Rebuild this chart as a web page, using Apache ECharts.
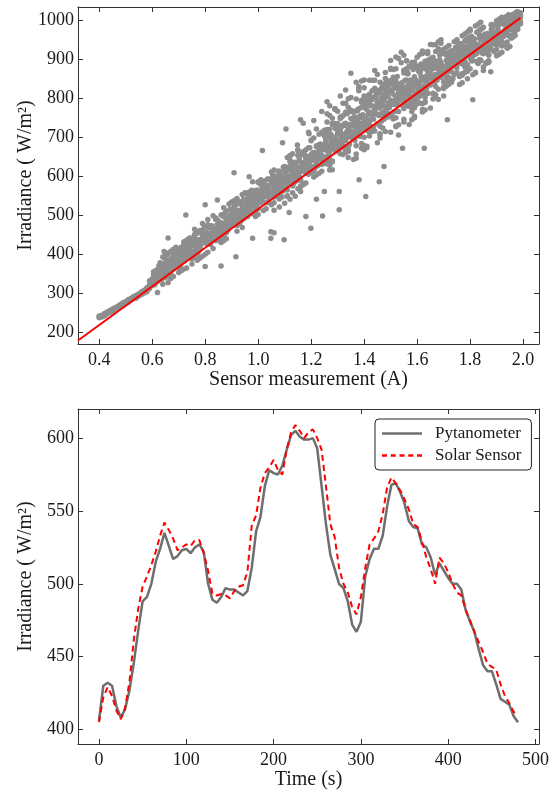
<!DOCTYPE html>
<html>
<head>
<meta charset="utf-8">
<title>Irradiance</title>
<script src="https://cdn.jsdelivr.net/npm/echarts@6/dist/echarts.min.js"></script>
<style>
html,body{margin:0;padding:0;background:#fff;}
#main{width:560px;height:791px;}
</style>
</head>
<body>
<div id="main"></div>
<script>

/********** 散点数据: [传感器读数(A), 辐照度...] **********/
var sensorCols = [
[0.40,236,239,241],[0.41,238,243,240],[0.42,245,241,247],[0.43,249,246,251],[0.44,250,255,253],
[0.45,257,253,259],[0.46,258,262,260],[0.47,266,263,261],[0.48,265,270,268],[0.49,273,269,275],
[0.50,272,278,275],[0.51,280,276,283],[0.52,281,286,284],[0.53,289,285,291],[0.54,287,294,290],
[0.55,298,292,295],[0.56,296,303,299],[0.57,300,307,303],
[0.58,303,311,305,313],[0.59,331,311,321,318],[0.60,319,323,332,336],[0.61,334,341,324,321],[0.62,329,342,331,336],
[0.63,338,361,350,345,347,377],[0.64,350,343,373,392,361,322],[0.65,348,387,385,360,339,397],
[0.66,383,344,376,402,360,400],[0.67,407,365,388,376,349,337],[0.68,381,402,363,342,412,393],
[0.69,380,417,378,383,386,414],[0.70,373,380,352,403,412,364],[0.71,401,390,357,398,378,417],
[0.72,405,382,361,421,431,428],[0.73,435,417,389,431,364,398],[0.74,409,440,394,415,403,411],
[0.75,399,389,387,435,374,427],[0.76,440,463,450,404,394,419],[0.77,455,384,453,437,430,399],
[0.78,423,414,460,416,421,389],[0.79,447,445,434,455,394,478],[0.80,433,470,439,437,452,399],
[0.81,488,450,448,404,452,475],[0.82,434,436,443,424,470,432],[0.83,460,448,462,498,454,414],
[0.84,490,434,444,488,459,492],[0.85,439,437,441,485,464,470],[0.86,429,454,500,469,444,431],
[0.87,459,495,434,449,518,468],[0.88,510,485,464,454,456,439],[0.89,490,492,488,528,497,484],
[0.90,489,502,474,476,533,487],[0.91,524,537,499,493,535,487],[0.92,458,492,529,473,542,511],
[0.93,503,505,488,534,532,478],[0.94,468,552,529,514,521,523],[0.95,519,557,507,509,513,515],
[0.96,534,496,506,552,521,542,527],[0.97,539,526,557,511,520,522,547],[0.98,562,544,552,560,525,506,546],
[0.99,542,521,557,511,523,496,513],[1.00,585,501,583,516,541,547,554],[1.01,546,577,552,559,561,590,531],
[1.02,545,551,564,511,547,553,582],[1.03,569,531,516,556,562,558,550],[1.04,546,574,576,561,592,548,536],
[1.05,560,562,610,558,579,526,587],[1.06,556,584,531,558,571,615,546],[1.07,576,551,561,597,570,599,563],
[1.08,581,587,612,602,541,543,594],[1.09,599,546,601,580,561,592,594],[1.10,622,620,566,612,591,624,619],
[1.11,564,602,577,547,647,579,549],[1.12,652,615,582,637,584,650,580],[1.13,612,605,557,657,574,630,576],
[1.14,617,602,625,610,604,627,635],[1.15,652,667,597,622,665,567,607],[1.16,635,572,574,589,591,612,614],
[1.17,577,632,617,579,634,625,662],[1.18,667,612,582,630,645,647,637],[1.19,617,604,627,672,635,606,637],
[1.20,655,692,647,609,690,640,611],[1.21,652,614,616,660,597,697,645],[1.22,642,644,602,657,675,632,677],
[1.23,607,647,670,662,680,664,707],[1.24,667,712,629,710,669,652,612],[1.25,717,647,634,702,680,636,632],
[1.26,719,668,738,631,759,675,650,707],[1.27,642,640,719,755,662,627,615,699],[1.28,638,636,748,693,696,734,616,731],
[1.29,699,687,722,665,688,734,770,772],[1.30,714,668,725,686,766,709,709,734],[1.31,679,720,657,751,747,704,727,714],
[1.32,677,730,674,699,754,786,655,688],[1.33,691,735,786,707,761,660,763,693],[1.34,647,663,672,798,721,776,663,700],
[1.35,801,769,715,714,747,765,704,706],
[1.36,744,702,737,728,642,764,736,749,764],[1.37,737,720,656,797,767,645,703,677,733],[1.38,829,736,818,733,772,716,824,749,703],
[1.39,722,750,794,725,789,683,843,671,776],[1.40,678,718,699,792,846,805,775,667,826],[1.41,746,747,797,676,730,786,804,672,770],
[1.42,738,845,726,702,791,713,809,792,723],[1.43,845,745,714,796,799,818,780,726,757],[1.44,825,777,802,803,772,845,715,821,766],
[1.45,791,819,811,787,860,775,685,788,733],[1.46,774,757,706,708,697,784,814,840,727],[1.47,755,834,723,790,791,762,806,779,798],
[1.48,817,714,850,767,832,837,865,801,827],[1.49,830,751,787,804,758,828,815,837,843],[1.50,873,896,834,712,876,756,844,794,816],
[1.51,791,853,746,848,873,842,783,748,809],[1.52,843,875,800,800,726,905,728,749,788],[1.53,791,812,901,825,797,818,795,731,765],
[1.54,815,837,830,819,917,832,890,832,813],[1.55,871,773,745,826,738,864,909,796,789],
[1.56,845,895,825,871,875,781,812,873,895],[1.57,795,805,819,810,783,732,778,882,880],[1.58,824,833,776,765,802,781,784,891,744],
[1.59,798,775,892,845,749,883,854,833,753],[1.60,809,836,829,793,877,784,843,904,879],[1.61,787,812,866,804,911,868,865,839,866],
[1.62,884,785,826,764,920,914,851,770,849],[1.63,801,894,882,769,875,818,790,788,842],[1.64,851,919,811,868,840,896,812,913,847],
[1.65,899,833,872,859,900,774,856,886,937],[1.66,878,810,797,875,936,890,846,812,904],[1.67,860,829,919,808,887,802,936,894,846],
[1.68,822,926,883,944,883,796,852,858,873],[1.69,877,949,863,884,875,852,881,890,940],
[1.70,841,826,925,862,923,828,824,805],[1.71,857,911,830,909,855,929,896,845],[1.72,850,835,934,916,871,852,901,848],
[1.73,885,906,887,921,919,840,883,867],[1.74,911,899,890,944,881,909,860,897],[1.75,949,947,916,877,865,904,886,888],
[1.76,921,834,936,891,900,934,855,857],[1.77,905,839,860,887,959,926,862,858],[1.78,919,880,892,964,865,946,894,931],
[1.79,870,872,924,951,868,885,969,849],[1.80,902,920,974,875,972,918,976,922],[1.81,946,925,934,907,859,944,895,948],
[1.82,930,864,912,914,921,984,866,939],[1.83,890,892,935,888,926,989,893,937],[1.84,994,949,931,895,933,976,922,897],
[1.85,915,945,954,952,936,879,913,981],
[1.86,937,888,924,939,890,922,926],[1.87,909,911,893,895,949,929,891],[1.88,988,947,925,986,975,963,954],
[1.89,939,946,959,941,952,919,968],[1.90,924,998,908,951,957,935,996],[1.91,939,989,941,968,1002,912,937],
[1.92,1007,917,944,966,933,994,992],[1.93,965,987,938,999,997,971,973],[1.94,943,963,983,927,985,981,929],
[1.95,932,997,1009,981,975,959,998],[1.96,962,1004,978,991,1013,955,985],[1.97,971,1008,989,1016,981,998,960],
[1.98,1010,984,1021,995,976,1003,1015],[1.99,995,1018,1006,1012,990]
];

// 密集带中心 (半步列)
var sensorCore = [
[0.605,348,325,354,329],[0.615,358,329,356,333],[0.625,363,342,348,369],[0.635,334,347,353,343],
[0.645,352,358,350,362],[0.655,344,353,378,372],[0.665,365,377,354,362],[0.675,373,363,377,379],
[0.685,368,375,399,387],[0.695,392,383,390,373],[0.705,385,397,369,409],[0.715,387,397,414,412],
[0.725,419,398,417,400],[0.735,421,406,436,415],[0.745,420,441,422,426],[0.755,425,407,431,433],
[0.765,412,421,401,436],[0.775,435,433,422,406],[0.785,427,435,425,437],[0.795,436,451,440,466],
[0.805,440,444,455,426],[0.815,441,467,436,431],[0.825,465,472,454,441],[0.835,459,441,464,462],
[0.845,460,451,475,458],[0.855,456,480,465,474],[0.865,479,466,500,456],[0.875,505,471,466,455],
[0.885,460,476,462,484],[0.895,515,513,476,471],[0.905,512,476,505,490],[0.915,481,491,499,525],
[0.925,509,511,491,530],[0.935,485,505,501,509],[0.945,525,501,540,490],[0.955,495,511,513,515],
[0.965,512,558,528,514],[0.975,539,503,533,563],[0.985,538,544,528,508],[0.995,556,533,564,521],
[1.005,537,531,539,533],[1.015,573,558,536,565],[1.025,587,552,547,554],[1.035,592,532,575,568],
[1.045,557,551,559,555],[1.055,593,556,602,595],[1.065,598,547,590,577],[1.075,572,560,612,582],
[1.085,571,587,565,557],[1.095,570,622,562,572],[1.105,575,597,610,587],[1.115,623,592,597,580],
[1.125,628,620,637,597],[1.135,582,625,584,596],[1.145,595,617,612,587],[1.155,643,652,600,617],
[1.165,657,655,617,622],[1.175,653,655,627,610],[1.185,643,650,637,607],[1.195,672,626,637,639],
[1.205,659,652,624,641],[1.215,657,621,659,655],[1.225,677,626,675,640],[1.235,645,667,656,682],
[1.245,636,638,644,672],[1.255,692,666,684,686],[1.265,676,652,654,712],[1.275,689,674,706,681],
[1.285,671,679,686,694],[1.295,691,693,676,689],[1.305,689,721,672,661],[1.315,726,709,694,751],
[1.325,671,731,729,733],[1.335,711,713,761,759],[1.345,701,681,732,766],[1.355,729,731,697,746],
[1.365,691,711,751,742],[1.375,707,767,724,769],[1.385,752,701,754,721],[1.395,757,717,734,736],
[1.405,721,738,781,745],[1.415,758,786,743,715],[1.425,720,722,780,763],[1.435,745,725,760,762],
[1.445,815,758,760,801],[1.455,755,786,778,788],[1.465,740,760,825,800],[1.475,796,745,798,805],
[1.485,778,810,761,763],[1.495,783,775,755,757],[1.505,820,760,845,788],[1.515,785,836,825,765],
[1.525,855,781,790,830],[1.535,810,812,803,835],[1.545,815,840,780,817],[1.555,845,805,813,785],
[1.565,830,863,832,861],[1.575,844,846,805,785],[1.585,873,818,801,790],[1.595,806,830,808,845],
[1.605,882,819,869,827],[1.615,854,874,815,887],[1.625,809,829,851,853],[1.635,825,856,827,814],
[1.645,889,869,861,878],[1.655,859,874,852,883],[1.665,888,849,840,842],[1.675,845,854,876,856],
[1.685,867,909,922,898],[1.695,914,879,881,864],[1.705,874,834,876,881],[1.715,914,879,867,886],
[1.725,919,891,899,897],[1.735,849,904,913,889],[1.745,888,890,929,927],[1.755,906,934,932,908],
[1.765,919,939,898,911],[1.775,933,916,903,901],[1.785,914,908,949,874],[1.795,919,954,943,934],
[1.805,958,911,895,930],[1.815,916,935,952,950],[1.825,968,914,921,893],[1.835,898,973,962,953],
[1.845,978,931,915,924],[1.855,963,961,936,955],[1.865,919,958,965,927],[1.875,924,951,945,932],
[1.885,950,983,981,985],[1.895,942,944,988,961],[1.905,978,972,954,966],[1.915,944,965,990,952],
[1.925,957,938,995,959],[1.935,987,1008,1000,1006],[1.945,986,959,1013,974],[1.955,997,995,1010,953],
[1.965,984,986,969,1015],[1.975,982,1001,984,1020]
];

// 离群点
var sensorOutliers = [
[0.62,301],[0.645,406],[0.66,441],[0.66,326],[0.727,500],[0.80,526],[0.80,368],[0.846,538],[0.86,369],
[0.916,393],[0.909,608],[0.966,598],[0.979,585],[0.979,440],[1.016,665],[1.048,440],[1.048,457],[1.06,454],
[1.06,512],[1.08,520],[1.092,685],[1.098,436],[1.10,530],[1.105,720],[1.117,506],[1.12,540],[1.14,548],
[1.148,679],[1.16,744],[1.16,560],[1.17,735],[1.18,496],[1.19,712],[1.192,708],[1.199,466],[1.21,742],
[1.22,720],[1.22,540],[1.243,497],[1.24,765],[1.25,560],[1.26,790],[1.27,780],[1.29,772],[1.306,513],
[1.306,560],[1.31,805],[1.33,820],[1.35,863],[1.37,840],[1.381,590],[1.406,547],[1.44,870],[1.457,585],
[1.475,624],[1.53,705],[1.545,671],[1.627,671],[1.714,744],[1.81,795],[1.85,870],[1.878,867]
];

// 拟合直线
var fitA = [0.32, 1.99];
var fitW = [178, 1005];

/********** 时间序列 **********/
var timeS = [0,5,10,15,20,25,30,35,40,45,50,55,60,65,70,75,80,85,90,95,
100,105,110,115,120,125,130,135,140,145,150,155,160,165,170,175,180,185,190,195,
200,205,210,215,220,225,230,235,240,245,250,255,260,265,270,275,280,285,290,295,
300,305,310,315,320,325,330,335,340,345,350,355,360,365,370,375,380,385,390,395,
400,405,410,415,420,425,430,435,440,445,450,455,460,465,470,475,480];

var pytanometer = [406,430,432,430,416,408,414,427,446,468,
488,491,500,515,524,535,526,517,519,523,
524,521,525,527,522,500,489,487,491,497,
496,496,494,492,495,511,536,546,567,578,
576,575,581,592,602,605,601,599,599,600,
593,567,541,520,510,500,497,488,472,467,
474,505,517,524,524,533,553,568,569,563,
555,543,539,538,527,525,518,506,514,509,
504,500,500,496,482,474,467,455,444,440,
440,431,421,419,417,409,405];

var solarSensor = [405,422,429,423,413,407,415,433,462,483,
498,505,513,522,533,542,537,531,523,525,
527,526,530,530,521,509,493,492,493,492,
490,495,498,499,508,540,547,566,576,580,
585,578,575,592,604,609,605,600,604,606,
600,592,567,541,532,511,500,494,484,479,
491,511,527,531,536,548,566,573,569,564,
558,551,541,539,529,518,510,500,518,514,
508,500,494,492,482,475,467,460,453,445,
443,441,431,423,418,412,410];

/********** 刻度 **********/
var sensorTicks = [0.4,0.6,0.8,1.0,1.2,1.4,1.6,1.8,2.0];
var irrTicksTop = [200,300,400,500,600,700,800,900,1000];
var timeTicks = [0,100,200,300,400,500];
var irrTicksBottom = [400,450,500,550,600];

var serif = "'Liberation Serif','DejaVu Serif',serif";
var ink = "#1a1a1a";

function axisX(grid, pos, min, max, ticks, fmt, name){
    return {
        type : "value",
        gridIndex : grid,
        position : pos,
        min : min,
        max : max,
        name : name || "",
        nameLocation : "middle",
        nameGap : 26,
        nameMoveOverlap : false,
        nameTextStyle : {fontFamily : serif, fontSize : 20, color : ink, verticalAlign : "top"},
        axisLine : {show : true, onZero : false, lineStyle : {color : "#333", width : 1}},
        axisTick : {show : true, inside : true, length : 5, customValues : ticks, lineStyle : {color : "#333"}},
        axisLabel : {show : pos == "bottom", customValues : ticks, formatter : fmt, margin : 7,
                     fontFamily : serif, fontSize : 18, color : ink},
        splitLine : {show : false}
    };
}

function axisY(grid, pos, min, max, ticks, name){
    return {
        type : "value",
        gridIndex : grid,
        position : pos,
        min : min,
        max : max,
        name : name || "",
        nameLocation : "middle",
        nameGap : 42,
        nameMoveOverlap : false,
        nameRotate : 90,
        nameTextStyle : {fontFamily : serif, fontSize : 20, color : ink},
        axisLine : {show : true, onZero : false, lineStyle : {color : "#333", width : 1}},
        axisTick : {show : true, inside : true, length : 5, customValues : ticks, lineStyle : {color : "#333"}},
        axisLabel : {show : pos == "left", customValues : ticks, margin : 4,
                     formatter : function(v){ return String(v); },
                     fontFamily : serif, fontSize : 18, color : ink},
        splitLine : {show : false}
    };
}

/********** 组装散点 **********/
var scatterData = [];
function addCols(cols){
    for(var i = 0; i < cols.length; i++){
        for(var k = 1; k < cols[i].length; k++){
            scatterData.push([cols[i][0], cols[i][k]]);
        }
    }
}
addCols(sensorCols);
addCols(sensorCore);
for(var j = 0; j < sensorOutliers.length; j++){
    scatterData.push(sensorOutliers[j]);
}

var fitData = fitA.map(function(a, i){ return [a, fitW[i]]; });
var pytData = timeS.map(function(t, i){ return [t, pytanometer[i]]; });
var solData = timeS.map(function(t, i){ return [t, solarSensor[i]]; });

var myChart = echarts.init(document.getElementById("main"));

var option = {
    animation : false,
    backgroundColor : "#fff",
    textStyle : {fontFamily : serif},
    grid : [
        {left : 78, top : 7, width : 461, height : 337},
        {left : 78, top : 409, width : 461, height : 337}
    ],
    xAxis : [
        axisX(0, "bottom", 0.32, 2.06, sensorTicks, function(v){ return v.toFixed(1); }, "Sensor measurement (A)"),
        axisX(0, "top", 0.32, 2.06, sensorTicks),
        axisX(1, "bottom", -24, 504, timeTicks, function(v){ return String(v); }, "Time (s)"),
        axisX(1, "top", -24, 504, timeTicks)
    ],
    yAxis : [
        axisY(0, "left", 169, 1033, irrTicksTop, "Irradiance ( W/m\u00b2)"),
        axisY(0, "right", 169, 1033, irrTicksTop),
        axisY(1, "left", 390, 620, irrTicksBottom, "Irradiance ( W/m\u00b2)"),
        axisY(1, "right", 390, 620, irrTicksBottom)
    ],
    legend : {
        left : 375,
        top : 419,
        orient : "vertical",
        data : [
            {name : "Pytanometer", icon : "path://M0,0h40v2.5h-40z"},
            {name : "Solar Sensor", icon : "path://M0,0h5v2.5h-5z M8.75,0h5v2.5h-5z M17.5,0h5v2.5h-5z M26.25,0h5v2.5h-5z M35,0h5v2.5h-5z"}
        ],
        itemWidth : 40,
        itemHeight : 2.5,
        itemGap : 5,
        padding : [6, 10, 6, 7],
        borderColor : "#222",
        borderWidth : 1,
        borderRadius : 4,
        textStyle : {fontFamily : serif, fontSize : 17, color : ink, padding : [0, 0, 0, 8]}
    },
    series : [
        {
            name : "measure",
            type : "scatter",
            xAxisIndex : 0,
            yAxisIndex : 0,
            data : scatterData,
            symbolSize : 5.5,
            large : false,
            itemStyle : {color : "#8e8e8e", opacity : 1},
            z : 2
        },
        {
            name : "fit",
            type : "line",
            xAxisIndex : 0,
            yAxisIndex : 0,
            data : fitData,
            symbol : "none",
            lineStyle : {color : "#ff0000", width : 2},
            z : 3
        },
        {
            name : "Pytanometer",
            type : "line",
            xAxisIndex : 2,
            yAxisIndex : 2,
            data : pytData,
            symbol : "none",
            itemStyle : {color : "#6e6e6e"},
            lineStyle : {color : "#6e6e6e", width : 2.5}
        },
        {
            name : "Solar Sensor",
            type : "line",
            xAxisIndex : 2,
            yAxisIndex : 2,
            data : solData,
            symbol : "none",
            itemStyle : {color : "#ff0000"},
            lineStyle : {color : "#ff0000", width : 2, type : [6, 4]}
        }
    ]
};

myChart.setOption(option);

</script>
</body>
</html>
